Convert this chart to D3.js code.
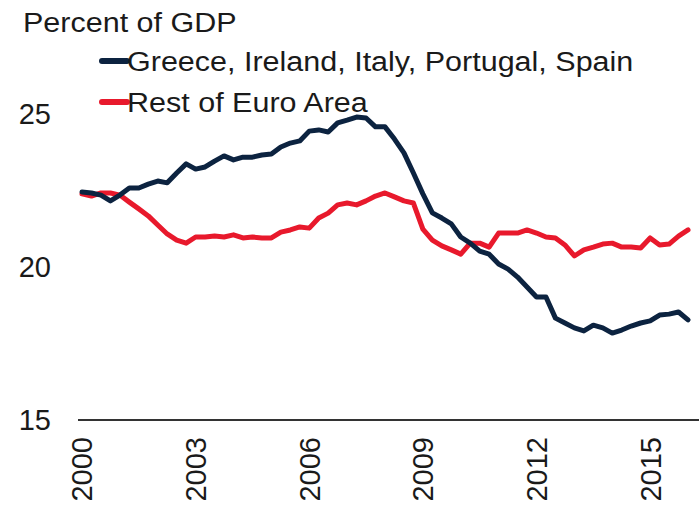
<!DOCTYPE html>
<html>
<head>
<meta charset="utf-8">
<script src="https://cdn.jsdelivr.net/npm/d3@7"></script>
<style>
  html, body { margin: 0; padding: 0; background: #fff; }
  svg { display: block; }
  text { font-family: "Liberation Sans", Arial, sans-serif; fill: #1a1a1a; }
</style>
</head>
<body>
<svg id="chart" width="699" height="508"></svg>
<script>
// Quarterly data, 2000Q1 .. 2016Q1
const startYear = 2000;
const periodsPerYear = 4;

const periphery = [
  22.45, 22.42, 22.35, 22.16, 22.35, 22.58, 22.58, 22.71,
  22.81, 22.75, 23.07, 23.37, 23.20, 23.27, 23.46, 23.63,
  23.50, 23.59, 23.59, 23.66, 23.69, 23.92, 24.05, 24.12,
  24.44, 24.48, 24.41, 24.71, 24.80, 24.90, 24.87, 24.58,
  24.58, 24.18, 23.73, 23.07, 22.39, 21.77, 21.60, 21.41,
  20.98, 20.78, 20.52, 20.42, 20.10, 19.93, 19.67, 19.35,
  19.02, 19.02, 18.33, 18.17, 18.01, 17.91, 18.10, 18.01,
  17.84, 17.94, 18.07, 18.17, 18.24, 18.43, 18.46, 18.53,
  18.27
];

const restEuro = [
  22.39, 22.32, 22.42, 22.42, 22.35, 22.12, 21.90, 21.67,
  21.37, 21.08, 20.88, 20.78, 20.98, 20.98, 21.01, 20.98,
  21.05, 20.95, 20.98, 20.95, 20.95, 21.14, 21.21, 21.31,
  21.27, 21.60, 21.76, 22.03, 22.09, 22.03, 22.16, 22.32,
  22.42, 22.29, 22.16, 22.09, 21.24, 20.88, 20.69, 20.56,
  20.42, 20.78, 20.78, 20.65, 21.11, 21.11, 21.11, 21.21,
  21.11, 20.98, 20.95, 20.72, 20.36, 20.56, 20.65, 20.75,
  20.78, 20.65, 20.65, 20.62, 20.95, 20.72, 20.75, 21.01,
  21.21
];

const seriesNames = ["Greece, Ireland, Italy, Portugal, Spain", "Rest of Euro Area"];
const seriesColors = ["#0c2340", "#e8192c"];
const xTickYears = [2000, 2003, 2006, 2009, 2012, 2015];
const yTicks = [15, 20, 25];
const yTitle = "Percent of GDP";

const svg = d3.select("#chart");
const W = 699, H = 508;
const fontSize = 29;
const hFont = 27, hStretch = 1.13;

const x = d3.scaleLinear().domain([2000, 2016]).range([82, 688]);
const y = d3.scaleLinear().domain([15, 25]).range([420, 114]);

const t = i => startYear + i / periodsPerYear;

// Axis baseline
svg.append("line")
  .attr("x1", 78).attr("x2", W)
  .attr("y1", y(15)).attr("y2", y(15))
  .attr("stroke", "#333").attr("stroke-width", 2);

// Y labels
svg.append("g").selectAll("text").data(yTicks).join("text")
  .attr("x", 51)
  .attr("y", d => y(d))
  .attr("dy", "0.36em")
  .attr("text-anchor", "end")
  .style("font-size", fontSize + "px")
  .text(d => d);

// X labels (rotated)
svg.append("g").selectAll("text").data(xTickYears).join("text")
  .attr("transform", d => `translate(${x(d)},${y(15) + 17}) rotate(-90)`)
  .attr("text-anchor", "end")
  .attr("dy", "0.36em")
  .style("font-size", fontSize + "px")
  .text(d => d);

// Lines
const line = d3.line()
  .x((d, i) => x(t(i)))
  .y(d => y(d));

[restEuro, periphery].forEach((data, k) => {
  const idx = k === 0 ? 1 : 0;
  svg.append("path")
    .datum(data)
    .attr("fill", "none")
    .attr("stroke", seriesColors[idx])
    .attr("stroke-width", 5)
    .attr("stroke-linejoin", "round")
    .attr("stroke-linecap", "round")
    .attr("d", line);
});

// Title
svg.append("text")
  .attr("transform", `translate(23,32) scale(${hStretch},1)`)
  .style("font-size", hFont + "px")
  .text(yTitle);

// Legend
const legendY = [61, 102];
seriesNames.forEach((name, i) => {
  svg.append("line")
    .attr("x1", 102).attr("x2", 127)
    .attr("y1", legendY[i]).attr("y2", legendY[i])
    .attr("stroke", seriesColors[i]).attr("stroke-width", 6)
    .attr("stroke-linecap", "round");
  svg.append("text")
    .attr("transform", `translate(127,${legendY[i]}) scale(${hStretch},1)`)
    .attr("dy", "0.36em")
    .style("font-size", hFont + "px")
    .text(name);
});
</script>
</body>
</html>
